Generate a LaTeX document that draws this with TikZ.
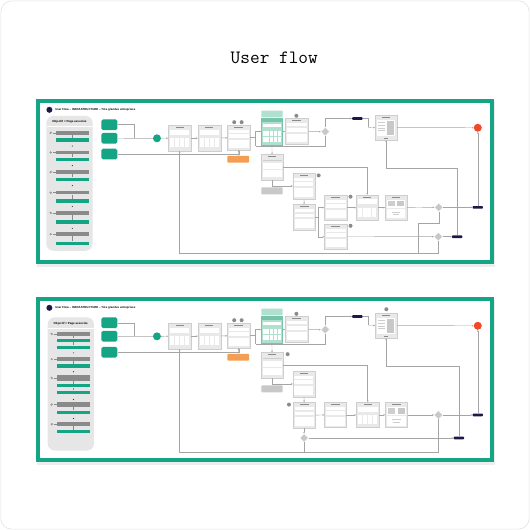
\documentclass[tikz,border=0pt]{standalone}
\usepackage{fontspec}
\setmainfont{Liberation Sans}
\usepackage{xcolor}
\definecolor{brandgreen}{RGB}{20,165,132}
\definecolor{flownavy}{RGB}{28,24,72}
\definecolor{flowred}{RGB}{238,74,40}
\definecolor{flowpeach}{RGB}{244,158,84}
\definecolor{mintfill}{RGB}{176,224,206}
\definecolor{mintline}{RGB}{120,196,170}
\definecolor{screenfill}{RGB}{233,233,233}
\definecolor{screenline}{RGB}{206,206,206}
\definecolor{bargrey}{RGB}{138,138,138}
\definecolor{panelgrey}{RGB}{230,230,230}
\definecolor{linegrey}{RGB}{165,165,165}
\definecolor{cardline}{RGB}{226,226,226}
\definecolor{notegrey}{RGB}{200,200,200}
\usetikzlibrary{arrows.meta, positioning, shapes.geometric, fit, calc}

% wireframe contents, drawn in the unit square of a screen
\newcommand{\uigrid}{%
  \fill[bargrey] (0.32,0.07) rectangle (0.68,0.1);
  \fill[white] (0.07,0.17) rectangle (0.93,0.37);
  \foreach \c in {0,1,2,3}
    \fill[white] ({0.07+0.22*\c},0.5) rectangle ({0.25+0.22*\c},0.86);}
\newcommand{\uiform}{%
  \fill[bargrey] (0.3,0.07) rectangle (0.7,0.1);
  \fill[white] (0.07,0.18) rectangle (0.93,0.3);
  \fill[white] (0.07,0.36) rectangle (0.93,0.5);
  \fill[white] (0.07,0.58) rectangle (0.93,0.92);}
\newcommand{\uitable}{%
  \fill[bargrey] (0.3,0.07) rectangle (0.7,0.1);
  \foreach \c in {0,1,2} {
    \fill[screenline] ({0.06+0.3*\c},0.2) rectangle ({0.34+0.3*\c},0.27);
    \fill[white] ({0.06+0.3*\c},0.32) rectangle ({0.34+0.3*\c},0.58);
    \fill[white] ({0.06+0.3*\c},0.62) rectangle ({0.34+0.3*\c},0.88);
  }}
\newcommand{\uidoc}{%
  \fill[bargrey] (0.3,0.07) rectangle (0.7,0.1);
  \fill[white] (0.08,0.2) rectangle (0.92,0.84);
  \foreach \r in {0,1,2,3}
    \fill[screenline] (0.14,{0.3+0.1*\r}) rectangle (0.46,{0.34+0.1*\r});
  \fill[notegrey] (0.54,0.26) rectangle (0.86,0.78);
  \fill[bargrey] (0.42,0.91) rectangle (0.58,0.94);}
\newcommand{\uicard}{%
  \fill[bargrey] (0.3,0.07) rectangle (0.7,0.1);
  \fill[white] (0.07,0.18) rectangle (0.93,0.5);
  \fill[screenline] (0.12,0.23) rectangle (0.45,0.45);
  \fill[notegrey] (0.55,0.23) rectangle (0.88,0.45);
  \fill[white] (0.07,0.56) rectangle (0.93,0.92);
  \fill[screenline] (0.3,0.68) rectangle (0.7,0.71);
  \fill[screenline] (0.36,0.76) rectangle (0.64,0.79);}
\newcommand{\uimint}{%
  \fill[mintline] (0.02,0.02) rectangle (0.98,0.14);
  \fill[white] (0.07,0.2) rectangle (0.93,0.34);
  \foreach \c in {0,...,4} {
    \fill[white] ({0.06+0.18*\c},0.48) rectangle ({0.2+0.18*\c},0.66);
    \fill[white] ({0.06+0.18*\c},0.72) rectangle ({0.2+0.18*\c},0.9);
  }}
% \uiscreen[style]{name}{content}{x0}{y0}{x1}{y1}
\newcommand{\uiscreen}[7][screen]{%
  \node[#1, fit={(#4,#5) (#6,#7)}] (#2) {};
  \pgfmathsetmacro{\uiw}{#6-#4}%
  \pgfmathsetmacro{\uih}{#7-#5}%
  \begin{scope}[shift={(#4,#5)}, xscale=\uiw, yscale=\uih]
    \csname ui#3\endcsname
  \end{scope}}

\tikzset{
  screen/.style={draw=screenline, fill=screenfill, line width=0.35pt, inner sep=0pt},
  mintscreen/.style={draw=mintline, fill=mintfill, line width=0.35pt, inner sep=0pt},
  entry/.style={fill=brandgreen, rounded corners=1.6pt, inner sep=0pt},
  mintnote/.style={fill=mintfill, rounded corners=0.8pt, inner sep=0pt},
  hint/.style={fill=notegrey, rounded corners=0.8pt, inner sep=0pt},
  alertbox/.style={fill=flowpeach, rounded corners=0.8pt, inner sep=0pt},
  decision/.style={diamond, aspect=1, fill=notegrey, draw=white, line width=0.3pt,
    minimum width=8.6pt, minimum height=8.6pt, inner sep=0pt},
  pill/.style={fill=flownavy, rounded corners=0.8pt, minimum width=10.4pt,
    minimum height=2.7pt, inner sep=0pt},
  numdot/.style={circle, fill=bargrey, minimum size=4pt, inner sep=0pt},
  startdot/.style={circle, fill=brandgreen, minimum size=8pt, inner sep=0pt},
  enddot/.style={circle, fill=flowred, minimum size=8pt, inner sep=0pt},
  logo/.style={circle, fill=flownavy, minimum size=6pt, inner sep=0pt},
  boardtitle/.style={font=\fontsize{2.85}{3.2}\selectfont\bfseries, inner sep=0pt},
  paneltitle/.style={font=\fontsize{2.9}{3.2}\selectfont\bfseries, inner sep=0pt},
  leftpanel/.style={fill=panelgrey, rounded corners=7pt, inner sep=0pt},
  stepbar/.style={fill=bargrey, minimum width=33pt, minimum height=3.6pt, inner sep=0pt},
  goalbar/.style={fill=brandgreen, minimum width=33pt, minimum height=3.6pt, inner sep=0pt},
  pmark/.style={circle, fill=bargrey!85, draw=white, line width=0.3pt, minimum size=3.8pt, inner sep=0pt},
  pdot/.style={circle, fill=black!80, minimum size=1.2pt, inner sep=0pt},
  paneledge/.style={draw=bargrey, line width=0.4pt},
  flow/.style={draw=linegrey, line width=0.45pt},
  arr/.style={flow, -{Stealth[length=1.8pt, width=1.6pt]}}
}

\begin{document}
\begin{tikzpicture}[x=1.014pt, y=-1.014pt]
  \useasboundingbox (0,0) rectangle (522.7,522.7);

  % card and heading
  \draw[cardline, line width=0.6pt, fill=white, rounded corners=11pt] (0.8,0.8) rectangle (521.9,521.9);
  \node[font=\ttfamily\fontsize{18.8}{20}\selectfont, anchor=base, inner sep=0pt] (title) at (270.5,62.3) {User flow};

  % the two boards share their upper flow
  \foreach \dy/\p in {0/a, 195.3/b} {
    \begin{scope}[shift={(0,\dy)}]
      \fill[black, opacity=0.07] (36.5,101) rectangle (488.5,263.5);
      \draw[brandgreen, line width=4.3pt, fill=white] (37.2,99.8) rectangle (485.4,258.5);
      \node[logo] (\p-logo) at (48.7,108.3) {};
      \node[boardtitle, anchor=west] (\p-head) at (54.3,108.3) {User Flow – INFRASTRUCTURE – Très grandes entreprises};

      % entry points
      \node[entry, fit={(100,117.7) (115.7,128.3)}] (\p-e1) {};
      \node[entry, fit={(100,131) (115.7,141.7)}] (\p-e2) {};
      \node[entry, fit={(100,146.7) (115.7,157.3)}] (\p-e3) {};
      \coordinate (\p-j) at (132.7,136.4);
      \node[startdot] (\p-start) at (154.8,136.4) {};

      % screens
      \uiscreen{\p-s1}{grid}{166}{123.7}{188.3}{148.7}
      \uiscreen{\p-s2}{grid}{195.3}{123.7}{217.7}{148.7}
      \uiscreen{\p-s3}{form}{224.3}{123.7}{246.7}{147.7}
      \node[numdot] (\p-n3a) at (231,120.5) {};
      \node[numdot] (\p-n3b) at (238.3,120.5) {};
      \node[alertbox, fit={(224.3,153.7) (245.7,160.3)}] (\p-warn) {};
      \node[mintnote, fit={(257.7,109) (278.7,115.7)}] (\p-note) {};
      \uiscreen[mintscreen]{\p-s4}{mint}{257.7}{116.7}{278.7}{142.7}
      \uiscreen{\p-s5}{form}{281.2}{117}{304}{142.5}
      \node[numdot] (\p-n5) at (292.3,114.2) {};
      \node[decision] (\p-d1) at (320.7,129.8) {};
      \node[pill] (\p-pill) at (352.5,116.8) {};
      \coordinate (\p-j4) at (363.3,125.7);
      \uiscreen{\p-s6}{doc}{370}{113.3}{391.5}{138.2}
      \node[enddot] (\p-end) at (471.2,126) {};
      \coordinate (\p-j2) at (252,135.7);
      \coordinate (\p-j3) at (252,144.3);
      \uiscreen{\p-s7}{table}{257.7}{152.5}{278.9}{177.2}
      \node[hint, fit={(257.7,184.8) (278.7,191.7)}] (\p-hint) {};
      \uiscreen{\p-s8}{form}{288.9}{170.7}{310.7}{196}
      \uiscreen{\p-s9}{form}{288.9}{201.6}{310.9}{226.6}

      % connectors
      \draw[flow] (\p-e1.east) -| (\p-j);
      \draw[flow] (\p-e2.east) -- (\p-j) -- (\p-start);
      \draw[arr] (\p-start) -- (\p-s1);
      \draw[arr] (\p-s1) -- (\p-s2);
      \draw[arr] (\p-s2) -- (\p-s3);
      \draw[arr] (\p-e3.east) -| (\p-s3.south);
      \draw[flow] (\p-s3.south) -- (\p-warn.north);
      \draw[flow] (\p-s3.east) -- (\p-j2) -- (\p-j3);
      \draw[arr] (\p-j2) |- (\p-s4.west);
      \draw[flow] (\p-d1.south) |- (\p-j3);
      \draw[arr] (\p-s4) -- (\p-s5);
      \draw[arr] (\p-s5) -- (\p-d1);
      \draw[arr] (\p-d1.north) |- (\p-pill.west);
      \draw[flow] (\p-pill.east) -| (\p-j4);
      \draw[arr] (\p-j4) -- (\p-s6.west);
      \draw[arr] (\p-s6) -- (\p-end);
      \draw[arr] (\p-s4.south) -- (\p-s7.north);
      \draw[arr] (\p-s7.south) |- (\p-s8.west);
      \draw[arr] (\p-s8.south) -- (\p-s9.north);
    \end{scope}
  }

  % board a: objectives
  \node[leftpanel, fit={(45.7,114.3) (91.3,247.3)}] (a-goals) {};
  \node[paneltitle] (a-goalstitle) at (68.5,120.3) {Objectif = Page associée};
  \draw[white, line width=0.5pt] (46,124.5) -- (91,124.5);
  \foreach \gy/\ny [count=\i] in {131/138, 150.3/157.3, 169.7/177, 190/198, 210/219, 231/240} {
    \node[pmark] (a-m\i) at (50,\gy) {};
    \node[stepbar] (a-g\i) at (71.35,\gy) {};
    \node[goalbar] (a-t\i) at (71.35,\ny) {};
    \draw[paneledge] (a-m\i) -- (a-g\i);
    \draw[paneledge] (a-g\i) -- (a-t\i);
  }
  \foreach \y [count=\k] in {144, 163.3, 183, 203.7, 225.3}
    \node[pdot] (a-dot\k) at (71.35,\y) {};

  % board a: lower branch
  \node[numdot] (a-n8) at (314.3,173) {};
  \uiscreen{a-s10}{form}{320}{192.3}{342.3}{217.3}
  \node[numdot] (a-n10) at (345.7,194) {};
  \uiscreen{a-s11}{grid}{351.3}{192.3}{373}{217.3}
  \uiscreen{a-s12}{card}{380}{192.3}{401.3}{217.3}
  \uiscreen{a-s13}{form}{320}{221}{342.3}{246}
  \node[numdot] (a-n13) at (345.7,222.7) {};
  \node[decision] (a-d2) at (432.7,204.5) {};
  \node[decision] (a-d3) at (432.3,233.4) {};
  \node[pill] (a-goal) at (471.2,204.5) {};
  \node[pill] (a-back) at (450.8,233.4) {};
  \coordinate (a-j5) at (314.3,214.1);
  \coordinate (a-j6) at (450.8,166);
  \coordinate (a-j7) at (432.3,250);
  \coordinate (a-j8) at (412.7,219.7);
  \coordinate (a-j9) at (412.7,250);

  \draw[arr] (a-s7.east) -| (a-s11.north);
  \draw[flow] (a-s9.east) -- (a-j5);
  \draw[arr] (a-j5) |- (a-s10.west);
  \draw[arr] (a-j5) |- (a-s13.west);
  \draw[arr] (a-s10) -- (a-s11);
  \draw[arr] (a-s11) -- (a-s12);
  \draw[arr] (a-s12) -- (a-d2);
  \draw[arr] (a-d2) -- (a-goal);
  \draw[arr] (a-goal) -- (a-end);
  \draw[arr] (a-s13) -- (a-d3);
  \draw[arr] (a-d3) -- (a-back);
  \draw[arr] (a-back.north) -- (a-j6) -| (a-s6.south);
  \draw[arr] (a-d3.south) -- (a-j7) -| (a-s1.south);
  \draw[flow] (a-d2.south) |- (a-j8) -- (a-j9);

  % board b: objectives
  \node[leftpanel, fit={(47,313) (92.7,444.3)}] (b-goals) {};
  \node[paneltitle] (b-goalstitle) at (69.8,319) {Objectif = Page associée};
  \draw[white, line width=0.5pt] (47.3,323.5) -- (92.4,323.5);
  \foreach \gy/\gh/\ny/\nny [count=\i] in {329.3/4.6/335.7/342.7, 354.3/3.6/361/0,
      372.7/5.6/380.3/387, 399/5/406.7/0, 418.3/3.6/425.7/0} {
    \node[pmark] (b-m\i) at (51,\gy) {};
    \node[stepbar, minimum height=\gh pt] (b-g\i) at (72.5,\gy) {};
    \node[goalbar] (b-t\i) at (72.5,\ny) {};
    \draw[paneledge] (b-m\i) -- (b-g\i);
    \draw[paneledge] (b-g\i) -- (b-t\i);
    \ifdim\nny pt>0pt
      \node[goalbar] (b-u\i) at (72.5,\nny) {};
      \draw[paneledge] (b-t\i) -- (b-u\i);
    \fi
  }
  \foreach \y [count=\k] in {348, 366.7, 394, 412.7}
    \node[pdot] (b-dot\k) at (72.5,\y) {};

  % board b: lower branch
  \node[numdot] (b-n6) at (381,305) {};
  \node[numdot] (b-n7) at (283.7,349.3) {};
  \node[numdot] (b-n9) at (285,399) {};
  \uiscreen{b-s10}{form}{320}{396.7}{341.3}{421.7}
  \uiscreen{b-s11}{grid}{351.3}{396.7}{374}{421.7}
  \uiscreen{b-s12}{card}{380}{396.7}{402}{421.7}
  \node[decision] (b-d2) at (432.3,409.2) {};
  \node[decision] (b-d3) at (299.9,432) {};
  \node[pill] (b-goal) at (471.2,409.2) {};
  \node[pill] (b-back) at (452.5,432) {};
  \coordinate (b-j6) at (452.5,361);
  \coordinate (b-j7) at (299.9,445.7);
  \coordinate (b-j8) at (432.3,445.7);

  \draw[arr] (b-s7.east) -| (b-s11.north);
  \draw[arr] (b-s9) -- (b-s10);
  \draw[arr] (b-s10) -- (b-s11);
  \draw[arr] (b-s11) -- (b-s12);
  \draw[arr] (b-s12) -- (b-d2);
  \draw[arr] (b-d2) -- (b-goal);
  \draw[arr] (b-goal) -- (b-end);
  \draw[arr] (b-s9) -- (b-d3);
  \draw[arr] (b-d3) -- (b-back);
  \draw[arr] (b-back.north) -- (b-j6) -| (b-s6.south);
  \draw[arr] (b-d3.south) -- (b-j7) -| (b-s1.south);
  \draw[flow] (b-d2.south) -- (b-j8) -- (b-j7);
\end{tikzpicture}
\end{document}
